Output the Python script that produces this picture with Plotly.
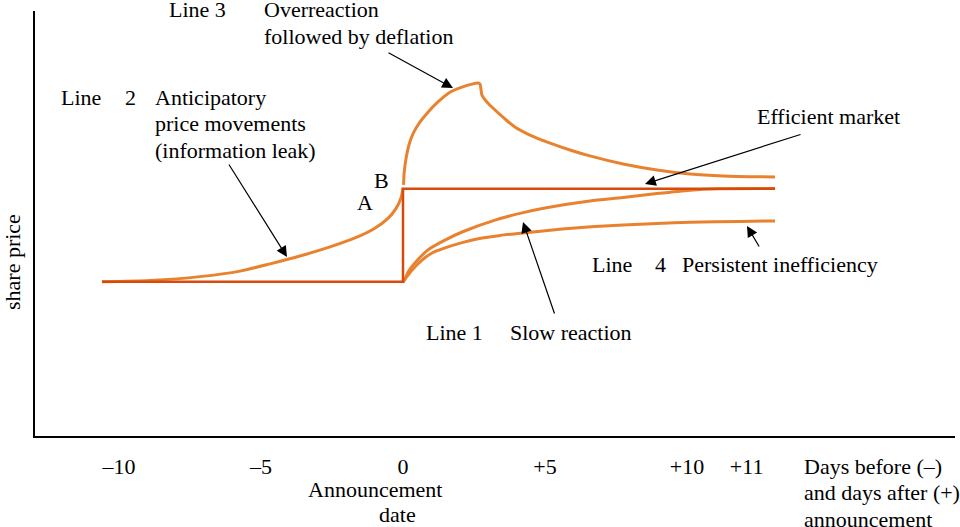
import plotly.graph_objects as go

# ---------------- data (days relative to announcement, share price in arbitrary units) ----
# Efficient market (step at announcement)
eff_days = [-10.6, 0, 0, 13.1]
eff_price = [36.3, 36.3, 58.2, 58.2]

# Line 2: anticipatory price movements (information leak)
ant_days = [-10.6, -8.91, -7.15, -5.74, -4.68, -3.63, -2.57, -1.69, -0.99, -0.53, -0.25, -0.07, 0.0]
ant_price = [36.3, 36.6, 37.5, 38.8, 40.5, 42.35, 44.5, 46.6, 48.9, 51.2, 53.5, 56.0, 58.35]

# Line 3: overreaction followed by deflation
over_days = [0.02, 0.04, 0.11, 0.21, 0.35, 0.60, 0.88, 1.23, 1.65, 2.08, 2.43, 2.64, 2.71,
             2.78, 2.89, 3.13, 3.59, 3.94, 4.47, 5.18, 5.88, 6.58, 7.75, 8.94, 10.11, 11.27, 13.1]
over_price = [59.1, 61.9, 65.4, 68.5, 71.1, 73.9, 76.2, 78.6, 80.9, 82.1, 82.8, 83.06, 82.8,
              80.2, 79.1, 77.4, 74.6, 72.7, 70.8, 68.9, 67.3, 65.9, 64.0, 62.6, 61.65, 61.2, 60.95]

# Line 1: slow reaction (converges to efficient level)
slow_days = [0.0, 0.07, 0.18, 0.42, 0.88, 1.48, 2.08, 3.24, 4.19, 5.0, 6.58, 7.75,
             8.94, 10.11, 11.16, 13.1]
slow_price = [36.3, 36.9, 38.6, 40.7, 43.8, 46.1, 48.0, 50.8, 52.5, 53.65, 55.3, 56.1,
              57.05, 57.85, 58.2, 58.25]

# Line 4: persistent inefficiency
pers_days = [0.0, 0.07, 0.32, 0.67, 1.02, 1.48, 2.08, 2.64, 3.42, 4.23, 5.60, 6.76, 7.75,
             8.94, 10.11, 11.87, 13.1]
pers_price = [36.3, 36.9, 39.05, 41.4, 43.05, 44.25, 45.5, 46.4, 47.2, 47.75, 48.7, 49.3, 49.65,
              50.0, 50.3, 50.5, 50.6]

tick_pos = [-10, -5, 0, 5, 10, 12.1]
tick_text = ["\u201310", "\u20135", "0", "+5", "+10", "+11"]

# ---------------- styling ----------------
ORANGE = "#e8822f"
RED = "#d64a0c"
FONT = "Liberation Serif"
FS = 22

W, H = 960, 527
L, R, T, B = 35, 5, 11, 91
PW, PH = W - L - R, H - T - B


def px(x):
    return (x - L) / PW


def py(y):
    return (T + PH - y) / PH


fig = go.Figure()
for d, p in [(ant_days, ant_price), (over_days, over_price),
             (slow_days, slow_price), (pers_days, pers_price)]:
    fig.add_trace(go.Scatter(x=d, y=p, mode="lines",
                             line=dict(color=ORANGE, width=3, shape="spline", smoothing=0.7),
                             hoverinfo="skip", showlegend=False))
fig.add_trace(go.Scatter(x=eff_days, y=eff_price, mode="lines",
                         line=dict(color=RED, width=2.5),
                         hoverinfo="skip", showlegend=False))

# text labels: (text, x, y, xanchor)
labels = [
    ("Line 3", 167, 10, "left"),
    ("Overreaction", 262, 10, "left"),
    ("followed by deflation", 262, 36, "left"),
    ("Line", 59, 97, "left"),
    ("2", 123, 97, "left"),
    ("Anticipatory", 153, 97, "left"),
    ("price movements", 153, 123, "left"),
    ("(information leak)", 153, 150, "left"),
    ("B", 381, 180, "center"),
    ("A", 365, 202, "center"),
    ("Efficient market", 755, 117, "left"),
    ("Line", 590, 264, "left"),
    ("4", 653, 264, "left"),
    ("Persistent inefficiency", 680, 264, "left"),
    ("Line 1", 424, 332, "left"),
    ("Slow reaction", 508, 332, "left"),
    ("Announcement", 375, 490, "center"),
    ("date", 397, 514, "center"),
    ("Days before (\u2013)", 802, 466, "left"),
    ("and days after (+)", 802, 493, "left"),
    ("announcement", 802, 519, "left"),
]
ann = []
for t, x, y, xa in labels:
    ann.append(dict(text=t, x=px(x), y=py(y), xref="paper", yref="paper",
                    xanchor=xa, yanchor="middle", showarrow=False,
                    font=dict(family=FONT, size=FS, color="black")))
ann.append(dict(text="share price", x=px(12), y=py(262), xref="paper", yref="paper",
                xanchor="center", yanchor="middle", textangle=-90, showarrow=False,
                font=dict(family=FONT, size=FS, color="black")))

# arrows: (tail x, tail y, head x, head y)
arrows = [
    (387, 52, 453, 88),
    (228, 163, 287, 257),
    (802, 134, 645, 184),
    (555, 315, 523, 222),
    (760, 248, 747, 226),
]
for tx, ty, hx, hy in arrows:
    ann.append(dict(text="", x=px(hx), y=py(hy), xref="paper", yref="paper",
                    ax=tx - hx, ay=ty - hy, axref="pixel", ayref="pixel",
                    showarrow=True, arrowhead=2, arrowsize=1.8, arrowwidth=1.2,
                    arrowcolor="black", standoff=0))

x0 = (L - 403) / 28.4
x1 = (W - R - 403) / 28.4
fig.update_layout(
    width=W, height=H,
    margin=dict(l=L, r=R, t=T, b=B, pad=0),
    paper_bgcolor="white", plot_bgcolor="white",
    font=dict(family=FONT, size=FS, color="black"),
    annotations=ann,
    xaxis=dict(range=[x0, x1], showgrid=False, zeroline=False, showline=True,
               linecolor="black", linewidth=1.5, ticks="", tickvals=tick_pos,
               ticktext=tick_text, ticklabelstandoff=10,
               tickfont=dict(family=FONT, size=FS, color="black")),
    yaxis=dict(range=[0, 100], showgrid=False, zeroline=False, showline=True,
               linecolor="black", linewidth=1.5, showticklabels=False, ticks=""),
)
fig.write_html("out.html", config={"displayModeBar": False})
